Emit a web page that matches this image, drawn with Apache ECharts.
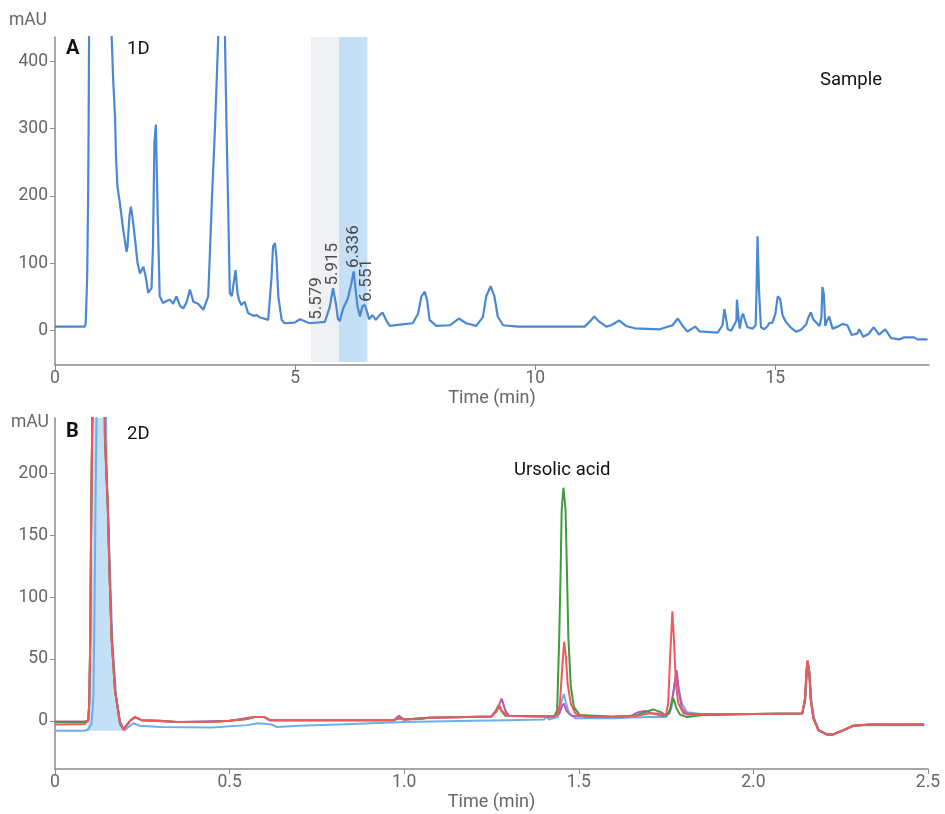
<!DOCTYPE html>
<html>
<head>
<meta charset="utf-8">
<script src="https://cdn.jsdelivr.net/npm/echarts@6/dist/echarts.min.js"></script>
<style>
html,body{margin:0;padding:0;background:#fff;}
#chart{width:945px;height:814px;}
</style>
</head>
<body>
<div id="chart"></div>
<script>
// ---------- Panel A (1D) ----------
var xTicksA = [0, 5, 10, 15];
var yTicksA = [0, 100, 200, 300, 400];
var trace1D = [
  [0,6],[0.62,6],[0.64,11],[0.67,80],[0.69,200],[0.70,300],[0.72,600],[1.17,600],[1.18,437],[1.21,375],
  [1.25,318],[1.27,259],[1.30,214],[1.35,190],[1.42,150],[1.49,117],[1.51,125],[1.55,170],[1.58,184],[1.61,170],
  [1.66,140],[1.72,100],[1.77,85],[1.84,95],[1.89,80],[1.94,56],[2.01,63],[2.04,125],[2.07,279],[2.10,306],
  [2.14,170],[2.18,51],[2.25,41],[2.32,44],[2.39,46],[2.46,40],[2.53,51],[2.60,37],[2.67,33],[2.74,42],
  [2.81,61],[2.88,43],[2.98,40],[3.09,31],[3.19,51],[3.22,105],[3.27,199],[3.33,298],[3.36,358],[3.40,437],
  [3.42,600],[3.53,600],[3.54,432],[3.57,308],[3.61,170],[3.64,56],[3.68,51],[3.72,70],[3.76,90],[3.80,56],
  [3.83,46],[3.88,38],[3.95,43],[4.02,26],[4.13,22],[4.20,23],[4.26,20],[4.44,16],[4.51,80],[4.54,125],
  [4.58,130],[4.61,110],[4.65,51],[4.72,16],[4.78,11],[4.99,12],[5.10,17],[5.30,11],[5.62,13],[5.72,35],
  [5.79,63],[5.85,40],[5.89,18],[5.93,14],[6.00,33],[6.10,48],[6.17,70],[6.22,88],[6.26,60],[6.30,36],
  [6.35,21],[6.40,36],[6.45,38],[6.50,28],[6.54,17],[6.61,23],[6.68,16],[6.76,23],[6.82,27],[6.90,15],
  [6.97,7],[7.18,9],[7.45,11],[7.56,25],[7.63,51],[7.70,58],[7.75,45],[7.80,16],[7.94,7],[8.22,8],
  [8.41,18],[8.56,11],[8.77,7],[8.91,20],[8.98,51],[9.07,66],[9.15,51],[9.22,21],[9.33,8],[9.64,6],
  [11.03,6],[11.13,13],[11.23,21],[11.34,13],[11.48,6],[11.58,8],[11.75,15],[11.89,7],[12.07,3.5],[12.59,2],
  [12.86,8],[12.97,18],[13.06,8],[13.17,-1.5],[13.33,6],[13.42,-1],[13.80,-3],[13.90,8],[13.94,32],[13.97,20],
  [14.01,2],[14.08,0],[14.19,15],[14.20,46],[14.24,15],[14.26,3],[14.30,21],[14.33,25],[14.37,15],[14.42,5],
  [14.53,3],[14.59,8],[14.61,63],[14.63,140],[14.65,140],[14.66,60],[14.70,5],[14.77,2],[14.84,7],[14.87,11],
  [14.94,12],[15.00,25],[15.05,51],[15.10,47],[15.15,23],[15.22,13],[15.33,4],[15.43,-1.5],[15.53,1],[15.64,9],
  [15.69,20],[15.74,27],[15.79,17],[15.85,12],[15.92,7],[15.96,20],[15.98,65],[16.01,55],[16.04,7],[16.07,14],
  [16.12,21],[16.16,19],[16.19,3],[16.30,6],[16.40,10],[16.50,8],[16.59,-6.5],[16.71,-4],[16.75,2],[16.83,-9],
  [16.94,-5],[17.05,5],[17.16,-6],[17.29,2],[17.41,-11],[17.58,-13],[17.68,-10],[17.89,-10],[17.96,-13],[18.17,-13]
];
var bandGray = [5.33, 5.915];
var bandBlue = [5.915, 6.505];
var peakLabels = ['5.579', '5.915', '6.336', '6.551'];
var peakLabelTimes = [5.444, 5.79, 6.215, 6.497];
var peakLabelHeights = [16, 67, 93, 43];

// ---------- Panel B (2D) ----------
var xTicksB = [0, 0.5, 1.0, 1.5, 2.0, 2.5];
var yTicksB = [0, 50, 100, 150, 200];
var traceRed = [
  [0,-3],[0.085,-2.5],[0.095,0],[0.098,14],[0.101,67],[0.103,143],[0.105,202],[0.107,248],[0.115,420],[0.13,430],
  [0.142,260],[0.143,229],[0.151,175],[0.156,121],[0.162,67],[0.172,24],[0.186,-1],[0.196,-7.5],[0.215,0],[0.229,3],
  [0.248,0.5],[0.3,0],[0.35,-1],[0.45,-1],[0.5,0],[0.55,1.5],[0.57,3],[0.6,3],[0.615,0.5],[0.8,0.5],
  [0.97,0.5],[0.985,2],[1.0,1],[1.05,1.5],[1.07,2.5],[1.2,3],[1.25,3.5],[1.265,8],[1.272,12.7],[1.28,8],
  [1.295,4],[1.35,3.5],[1.43,3.5],[1.44,6],[1.446,14],[1.452,41],[1.458,64],[1.463,52],[1.468,30],[1.477,14],
  [1.49,6],[1.52,3],[1.6,3.2],[1.67,4],[1.70,6],[1.73,6],[1.75,5],[1.756,14],[1.762,55],[1.768,88.5],
  [1.773,63],[1.778,30],[1.785,14],[1.8,6],[1.85,5],[2.0,5.5],[2.14,6],[2.148,18],[2.152,40],[2.155,49],
  [2.16,40],[2.164,18],[2.172,2],[2.186,-7.5],[2.21,-11],[2.229,-11],[2.258,-7.5],[2.286,-4],[2.334,-3],[2.489,-3]
];
var traceGreen = [
  [0,-1],[0.085,-1],[0.095,0],[0.098,14],[0.101,67],[0.103,143],[0.105,202],[0.107,248],[0.115,420],[0.13,430],
  [0.142,260],[0.143,229],[0.151,175],[0.156,121],[0.162,67],[0.172,24],[0.186,-1],[0.196,-7],[0.215,0],[0.229,3],
  [0.248,0.5],[0.3,0],[0.35,-1],[0.45,-1],[0.5,0],[0.55,1.5],[0.57,3],[0.6,3],[0.615,0.5],[0.97,0.5],
  [0.985,2],[1.0,1],[1.07,2.5],[1.25,3.5],[1.262,8],[1.27,12.7],[1.278,8],[1.29,4],[1.43,3.5],[1.438,8.7],
  [1.444,68],[1.448,122],[1.451,171],[1.456,188.6],[1.462,171],[1.466,122],[1.470,68],[1.477,28],[1.486,11],[1.503,4.6],
  [1.6,3.2],[1.66,4],[1.69,7],[1.713,9.2],[1.735,7],[1.75,4],[1.76,8],[1.771,18],[1.78,10],[1.79,5],
  [1.81,3],[1.85,4.5],[2.0,5.5],[2.14,6],[2.148,18],[2.152,40],[2.155,48],[2.16,40],[2.164,18],[2.172,2],
  [2.186,-7.5],[2.21,-11],[2.229,-11],[2.258,-7.5],[2.286,-4],[2.334,-3],[2.489,-3]
];
var traceMagenta = [
  [0,-0.5],[0.085,-0.5],[0.095,0],[0.098,14],[0.101,67],[0.103,143],[0.105,202],[0.107,248],[0.115,420],[0.13,430],
  [0.142,260],[0.143,229],[0.151,175],[0.156,121],[0.162,67],[0.172,24],[0.186,-1],[0.196,-7],[0.215,0],[0.229,3],
  [0.248,0.5],[0.35,-1],[0.5,0],[0.57,3],[0.6,3],[0.615,0.5],[0.97,0.5],[0.985,4],[1.0,1],[1.07,2.5],
  [1.25,3.5],[1.265,8],[1.279,18],[1.29,8],[1.30,4],[1.43,3.5],[1.445,6],[1.452,12],[1.457,14],[1.465,8],
  [1.48,4],[1.6,3.2],[1.65,4],[1.67,7],[1.69,8],[1.71,6],[1.74,4],[1.76,6],[1.772,25],[1.780,41],
  [1.786,25],[1.795,10],[1.81,5],[2.0,5.5],[2.14,6],[2.148,18],[2.152,40],[2.155,48],[2.16,40],[2.164,18],
  [2.172,2],[2.186,-7.5],[2.21,-11],[2.229,-11],[2.258,-7.5],[2.286,-4],[2.334,-3],[2.489,-3]
];
var traceBlue = [
  [0,-8],[0.085,-8],[0.095,-7],[0.105,-2],[0.110,20],[0.113,88],[0.116,175],[0.119,248],[0.125,400],[0.14,400],
  [0.146,250],[0.148,202],[0.156,135],[0.164,67],[0.175,20],[0.186,-3.5],[0.2,-7.5],[0.224,-2],[0.243,-4],[0.3,-5],
  [0.45,-5.5],[0.55,-3.5],[0.58,-2],[0.62,-3],[0.635,-5],[0.7,-4],[0.85,-2.5],[1.0,-1],[1.2,0],[1.3,0.5],
  [1.40,1],[1.408,3],[1.415,1],[1.44,3],[1.450,15],[1.457,21.7],[1.463,15],[1.472,6],[1.49,2],[1.6,2],
  [1.70,3],[1.75,3],[1.765,10],[1.774,30],[1.780,35.7],[1.787,25],[1.795,14],[1.81,7],[1.85,5.5],[2.0,5.5],
  [2.14,6],[2.148,15],[2.153,35],[2.157,44],[2.162,35],[2.166,16],[2.174,2],[2.188,-7.5],[2.21,-11],[2.229,-11],
  [2.258,-7.5],[2.286,-4],[2.334,-3.5],[2.489,-3.5]
];
// shaded first-peak region (outline of the filled area)
var fillOutline = [
  [0.088,-8],[0.095,-4],[0.099,14],[0.102,67],[0.104,143],[0.106,202],[0.108,248],[0.115,420],[0.14,420],
  [0.146,250],[0.149,202],[0.157,135],[0.165,67],[0.176,20],[0.187,-3.5],[0.2,-8]
];
var fillBase = -8;

// ---------- build ----------
var axisColor = '#8a8a8a';
var labelColor = '#666';
var fontFam = 'Roboto, "Noto Sans", sans-serif';

function valueAxis(gridIndex, min, max, ticks, fmt, isX) {
  return {
    type: 'value', gridIndex: gridIndex, min: min, max: max,
    axisLine: {show: true, onZero: false, lineStyle: {color: axisColor, width: 1.5}},
    axisTick: {show: true, length: 5, lineStyle: {color: axisColor}, customValues: ticks},
    axisLabel: {color: labelColor, fontSize: 17.5, fontFamily: fontFam, margin: isX ? 5 : 7,
      customValues: ticks, formatter: fmt},
    splitLine: {show: false},
    name: isX ? 'Time (min)' : '',
    nameLocation: 'middle', nameGap: 24,
    nameTextStyle: {color: labelColor, fontSize: 18, fontFamily: fontFam}
  };
}

var peakData = peakLabels.map(function (l, i) {
  return {value: [peakLabelTimes[i], peakLabelHeights[i]], name: l};
});

var chart = echarts.init(document.getElementById('chart'), null, {renderer: 'canvas'});
var option = {
  backgroundColor: '#fff',
  animation: false,
  grid: [
    {left: 55, top: 37, width: 874, height: 328},
    {left: 55, top: 418, width: 873, height: 351}
  ],
  xAxis: [
    valueAxis(0, 0, 18.2, xTicksA, function (v) { return String(v); }, true),
    valueAxis(1, 0, 2.5, xTicksB, function (v) { return v === 0 ? '0' : v.toFixed(1); }, true)
  ],
  yAxis: [
    valueAxis(0, -51, 436, yTicksA, function (v) { return String(v); }, false),
    valueAxis(1, -39, 245, yTicksB, function (v) { return String(v); }, false)
  ],
  series: [
    {
      type: 'line', xAxisIndex: 0, yAxisIndex: 0, data: trace1D, showSymbol: false,
      lineStyle: {color: '#4a88d4', width: 2.2}, z: 3,
      markArea: {
        silent: true,
        data: [
          [{xAxis: bandGray[0], yAxis: 436, itemStyle: {color: '#eef0f4'}}, {xAxis: bandGray[1], yAxis: -46.5}],
          [{xAxis: bandBlue[0], yAxis: 436, itemStyle: {color: '#c5dff4'}}, {xAxis: bandBlue[1], yAxis: -46.5}]
        ]
      }
    },
    {
      type: 'scatter', xAxisIndex: 0, yAxisIndex: 0, data: peakData, symbolSize: 0, z: 5,
      label: {show: true, formatter: '{b}', rotate: 90, position: [0, 0], align: 'left', verticalAlign: 'middle',
        color: '#222', fontSize: 17, fontFamily: fontFam}
    },
    {
      type: 'line', xAxisIndex: 1, yAxisIndex: 1, data: fillOutline, showSymbol: false,
      lineStyle: {width: 0}, areaStyle: {color: '#c5dff5', opacity: 1, origin: fillBase}, z: 1
    },
    {
      type: 'line', xAxisIndex: 1, yAxisIndex: 1, data: traceBlue, showSymbol: false,
      lineStyle: {color: '#6cb0ea', width: 2}, z: 2
    },
    {
      type: 'line', xAxisIndex: 1, yAxisIndex: 1, data: traceMagenta, showSymbol: false,
      lineStyle: {color: '#b956b9', width: 2}, z: 3
    },
    {
      type: 'line', xAxisIndex: 1, yAxisIndex: 1, data: traceGreen, showSymbol: false,
      lineStyle: {color: '#3d9c3d', width: 2}, z: 4
    },
    {
      type: 'line', xAxisIndex: 1, yAxisIndex: 1, data: traceRed, showSymbol: false,
      lineStyle: {color: '#f0585e', width: 2}, z: 5
    }
  ],
  graphic: [
    {type: 'text', left: 9, top: 12, style: {text: 'mAU', fill: labelColor, font: '17.5px ' + fontFam}},
    {type: 'text', left: 11, top: 414, style: {text: 'mAU', fill: labelColor, font: '17.5px ' + fontFam}},
    {type: 'text', left: 66, top: 39, style: {text: 'A', fill: '#111', font: 'bold 20px ' + fontFam}},
    {type: 'text', left: 127, top: 40, style: {text: '1D', fill: '#111', font: '18.5px ' + fontFam}},
    {type: 'text', left: 820, top: 71, style: {text: 'Sample', fill: '#111', font: '18.5px ' + fontFam}},
    {type: 'text', left: 66, top: 422, style: {text: 'B', fill: '#111', font: 'bold 20px ' + fontFam}},
    {type: 'text', left: 127, top: 425, style: {text: '2D', fill: '#111', font: '18.5px ' + fontFam}},
    {type: 'text', left: 514, top: 461, style: {text: 'Ursolic acid', fill: '#111', font: '18.5px ' + fontFam}}
  ]
};
chart.setOption(option);
</script>
</body>
</html>
